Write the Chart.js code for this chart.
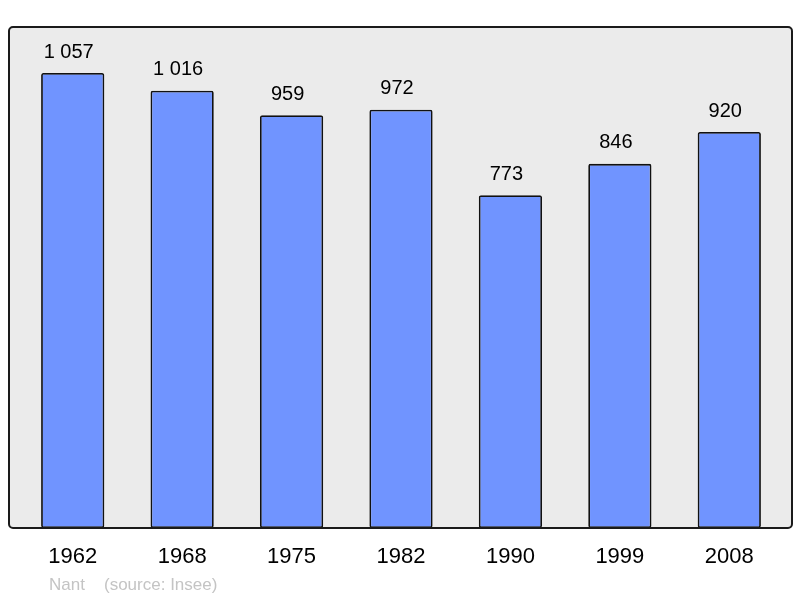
<!DOCTYPE html>
<html>
<head>
<meta charset="utf-8">
<script src="https://cdn.jsdelivr.net/npm/chart.js@4"></script>
<style>
  html, body { margin: 0; padding: 0; background: #fff; }
  #wrap { width: 800px; height: 598px; }
</style>
</head>
<body>
<div id="wrap"><canvas id="popChart" width="800" height="598"></canvas></div>
<script>
// Population data
const years = ['1962', '1968', '1975', '1982', '1990', '1999', '2008'];
const population = [1057, 1016, 959, 972, 773, 846, 920];
const commune = 'Nant';
const sourceText = '(source: Insee)';

const FONT = '"Liberation Sans", Arial, sans-serif';

// format 1057 -> "1 057"
function fmt(n) {
  return String(n).replace(/\B(?=(\d{3})+(?!\d))/g, ' ');
}

// grey frame behind the bars
const framePlugin = {
  id: 'frame',
  beforeDatasetsDraw(chart) {
    const { ctx, chartArea: a } = chart;
    const x = a.left - 9, y = a.top, w = (a.right + 8) - x, h = a.bottom - a.top;
    ctx.save();
    ctx.beginPath();
    ctx.roundRect(x, y, w, h, 4);
    ctx.fillStyle = '#ebebeb';
    ctx.fill();
    ctx.restore();
  },
  afterDatasetsDraw(chart) {
    const { ctx, chartArea: a } = chart;
    const x = a.left - 9, y = a.top, w = (a.right + 8) - x, h = a.bottom - a.top;
    ctx.save();
    ctx.beginPath();
    ctx.roundRect(x, y, w, h, 4);
    ctx.lineWidth = 2;
    ctx.strokeStyle = '#1a1a1a';
    ctx.stroke();

    // value labels above bars
    const meta = chart.getDatasetMeta(0);
    ctx.fillStyle = '#000';
    ctx.font = '20px ' + FONT;
    ctx.textAlign = 'center';
    ctx.textBaseline = 'middle';
    meta.data.forEach((bar, i) => {
      ctx.fillText(fmt(population[i]), bar.x - 4, bar.y - 21);
    });

    // source line
    ctx.fillStyle = '#c4c4c4';
    ctx.font = '17px ' + FONT;
    ctx.textAlign = 'left';
    ctx.fillText(commune, 49, 585);
    ctx.fillText(sourceText, 104, 585);
    ctx.restore();
  }
};

new Chart(document.getElementById('popChart'), {
  type: 'bar',
  data: {
    labels: years,
    datasets: [{
      data: population,
      backgroundColor: '#7094ff',
      borderColor: '#111',
      borderWidth: 1.8,
      borderRadius: 2,
      borderSkipped: false,
      categoryPercentage: 1,
      barPercentage: 0.578
    }]
  },
  options: {
    responsive: false,
    animation: false,
    layout: { padding: { left: 18, right: 16, top: 27, bottom: 0 } },
    plugins: {
      legend: { display: false },
      tooltip: { enabled: false }
    },
    scales: {
      x: {
        grid: { display: false, drawTicks: false },
        border: { display: false },
        ticks: { color: '#000', font: { family: FONT, size: 22 }, padding: 16 },
        afterFit(axis) { axis.height = 70; }
      },
      y: {
        display: false,
        min: 0,
        max: 1164
      }
    }
  },
  plugins: [framePlugin]
});
</script>
</body>
</html>
